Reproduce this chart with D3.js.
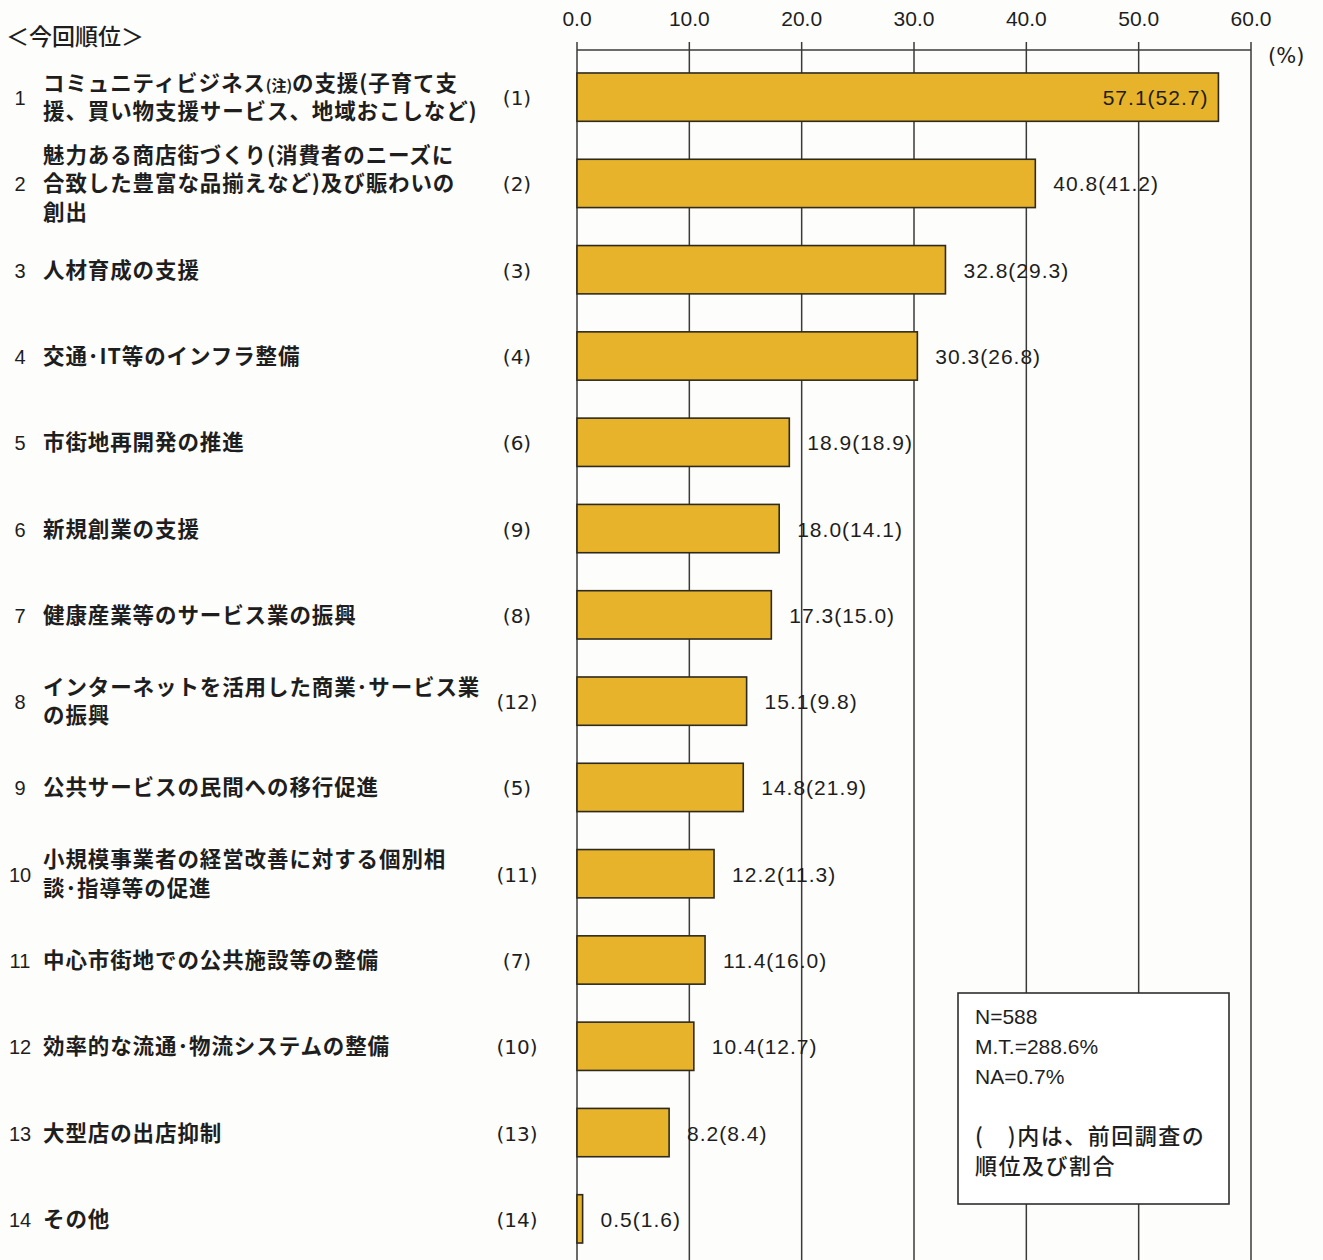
<!DOCTYPE html>
<html>
<head>
<meta charset="utf-8">
<script src="https://cdn.jsdelivr.net/npm/d3@7"></script>
<style>
  body { margin: 0; background: #fdfdfb; }
  svg { display: block; }
</style>
</head>
<body>
<div id="chart"></div>
<script>
// current rank, item label lines, previous rank, current %, previous %
const ranks = [1, 2, 3, 4, 5, 6, 7, 8, 9, 10, 11, 12, 13, 14];
const labels = [
  ["コミュニティビジネス(注)の支援(子育て支", "援、買い物支援サービス、地域おこしなど)"],
  ["魅力ある商店街づくり(消費者のニーズに", "合致した豊富な品揃えなど)及び賑わいの", "創出"],
  ["人材育成の支援"],
  ["交通･IT等のインフラ整備"],
  ["市街地再開発の推進"],
  ["新規創業の支援"],
  ["健康産業等のサービス業の振興"],
  ["インターネットを活用した商業･サービス業", "の振興"],
  ["公共サービスの民間への移行促進"],
  ["小規模事業者の経営改善に対する個別相", "談･指導等の促進"],
  ["中心市街地での公共施設等の整備"],
  ["効率的な流通･物流システムの整備"],
  ["大型店の出店抑制"],
  ["その他"]
];
const prevRanks = [1, 2, 3, 4, 6, 9, 8, 12, 5, 11, 7, 10, 13, 14];
const values = [57.1, 40.8, 32.8, 30.3, 18.9, 18.0, 17.3, 15.1, 14.8, 12.2, 11.4, 10.4, 8.2, 0.5];
const prevValues = [52.7, 41.2, 29.3, 26.8, 18.9, 14.1, 15.0, 9.8, 21.9, 11.3, 16.0, 12.7, 8.4, 1.6];
const ticks = [0, 10, 20, 30, 40, 50, 60];
const noteLines = ["N=588", "M.T.=288.6%", "NA=0.7%", "", "(\u3000)内は、前回調査の", "順位及び割合"];

const data = ranks.map((r, i) => ({
  rank: r, lines: labels[i], prev: prevRanks[i], value: values[i], prevValue: prevValues[i]
}));

const width = 1323, height = 1260;
const jp = "'Noto Sans CJK JP', sans-serif";
const num = "'Liberation Sans', Arial, sans-serif";
const wide = "'DejaVu Sans', sans-serif";

const svg = d3.select("#chart").append("svg")
  .attr("width", width)
  .attr("height", height);

const x = d3.scaleLinear().domain([0, 60]).range([577, 1251]);
const y = d3.scaleBand().domain(ranks).range([54, 1262])
  .paddingInner(0.44).paddingOuter(0.22);

// grid + top axis
svg.append("g")
  .selectAll("line")
  .data(ticks)
  .join("line")
  .attr("x1", d => x(d)).attr("x2", d => x(d))
  .attr("y1", 42).attr("y2", height)
  .attr("stroke", "#3a3a3a")
  .attr("stroke-width", 1.5);

svg.append("line")
  .attr("x1", x(0)).attr("x2", x(60))
  .attr("y1", 50).attr("y2", 50)
  .attr("stroke", "#3a3a3a")
  .attr("stroke-width", 1.5);

svg.append("g")
  .selectAll("text")
  .data(ticks)
  .join("text")
  .attr("x", d => x(d))
  .attr("y", 26)
  .attr("text-anchor", "middle")
  .style("font", `21px ${num}`)
  .attr("fill", "#1e1e1e")
  .text(d => d.toFixed(1));

svg.append("text")
  .attr("x", 1268).attr("y", 63)
  .style("font", `21px ${wide}`)
  .attr("fill", "#1e1e1e")
  .text("(%)");

// header
svg.append("text")
  .attr("x", 6).attr("y", 45)
  .style("font", `500 23px ${jp}`)
  .attr("fill", "#1e1e1e")
  .text("＜今回順位＞");

// bars
svg.append("g")
  .selectAll("rect")
  .data(data)
  .join("rect")
  .attr("x", x(0))
  .attr("y", d => y(d.rank))
  .attr("width", d => x(d.value) - x(0))
  .attr("height", y.bandwidth())
  .attr("fill", "#e6b32a")
  .attr("stroke", "#2e2a20")
  .attr("stroke-width", 1.6);

// value labels
svg.append("g")
  .selectAll("text")
  .data(data)
  .join("text")
  .attr("x", d => d.value > 50 ? x(d.value) - 10 : x(d.value) + 18)
  .attr("y", d => y(d.rank) + y.bandwidth() / 2 + 8)
  .attr("text-anchor", d => d.value > 50 ? "end" : "start")
  .style("font", `21px ${num}`)
  .style("letter-spacing", "1px")
  .attr("fill", "#1e1e1e")
  .text(d => `${d.value.toFixed(1)}(${d.prevValue.toFixed(1)})`);

// left side: rank, item text, previous rank
const row = svg.append("g")
  .selectAll("g")
  .data(data)
  .join("g")
  .attr("transform", d => `translate(0,${y(d.rank) + y.bandwidth() / 2})`);

row.append("text")
  .attr("x", 20).attr("y", 8)
  .attr("text-anchor", "middle")
  .style("font", `20px ${num}`)
  .attr("fill", "#1e1e1e")
  .text(d => d.rank);

row.append("text")
  .attr("x", 517).attr("y", 8)
  .attr("text-anchor", "middle")
  .style("font", `20px ${wide}`)
  .attr("fill", "#1e1e1e")
  .text(d => `(${d.prev})`);

const lineH = 28.5;
row.each(function (d) {
  const t = d3.select(this).append("text")
    .style("font", `bold 21.5px ${jp}`)
    .style("letter-spacing", "0.9px")
    .attr("fill", "#1e1e1e");
  const top = 8 - (d.lines.length - 1) * lineH / 2;
  d.lines.forEach((ln, i) => {
    const parts = ln.split("(注)");
    const ts = t.append("tspan").attr("x", 43).attr("y", top + i * lineH);
    if (parts.length > 1) {
      ts.text(parts[0]);
      t.append("tspan").style("font-size", "15px").style("letter-spacing", "0px").text("(注)");
      t.append("tspan").text(parts[1]);
    } else {
      ts.text(ln);
    }
  });
});

// note box
svg.append("rect")
  .attr("x", 958).attr("y", 993)
  .attr("width", 271).attr("height", 211)
  .attr("fill", "#fff")
  .attr("stroke", "#2e2e2e")
  .attr("stroke-width", 1.6);

svg.append("g")
  .selectAll("text")
  .data(noteLines)
  .join("text")
  .attr("x", 975)
  .attr("y", (d, i) => 1024 + i * 30)
  .style("font", (d, i) => i < 3 ? `21px ${num}` : `500 22px ${jp}`)
  .style("letter-spacing", (d, i) => i < 3 ? "0px" : "1.5px")
  .attr("fill", "#1e1e1e")
  .text(d => d);
</script>
</body>
</html>
